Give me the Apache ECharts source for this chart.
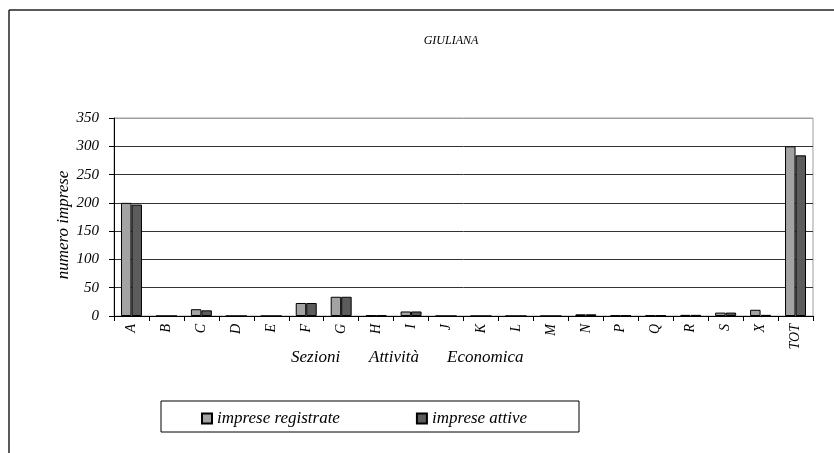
<!DOCTYPE html>
<html>
<head>
<meta charset="utf-8">
<script src="https://cdn.jsdelivr.net/npm/echarts@6/dist/echarts.min.js"></script>
<style>
  html, body { margin: 0; padding: 0; background: #fff; }
  #chart { width: 834px; height: 453px; }
</style>
</head>
<body>
<div id="chart"></div>
<script>
// Sezioni di attività economica (ATECO) per il comune
const categories = ['A','B','C','D','E','F','G','H','I','J','K','L','M','N','P','Q','R','S','X','TOT'];
const impreseRegistrate = [200, 0, 12, 0, 0, 23, 34, 1, 8, 0, 0, 0, 0, 3, 1, 1, 2, 6, 11, 300];
const impreseAttive     = [197, 0, 10, 0, 0, 23, 34, 1, 8, 0, 0, 0, 0, 3, 1, 1, 2, 6, 2, 284];
const yTicks = { min: 0, max: 350, interval: 50 };

const FONT = 'Liberation Serif, Times New Roman, serif';
const chart = echarts.init(document.getElementById('chart'));

chart.setOption({
  backgroundColor: '#fff',
  animation: false,
  title: {
    text: 'GIULIANA',
    left: 446, top: 30, textAlign: 'center',
    textStyle: { fontFamily: FONT, fontStyle: 'italic', fontWeight: 'normal', fontSize: 12, color: '#000' }
  },
  grid: {
    left: 114, right: 21, top: 118, bottom: 137,
    show: true, borderColor: '#a0a0a0', borderWidth: 1, backgroundColor: 'transparent'
  },
  legend: {
    left: 196, top: 405,
    icon: 'rect', itemWidth: 10, itemHeight: 10, itemGap: 76,
    textStyle: { fontFamily: FONT, fontStyle: 'italic', fontSize: 17, color: '#000' },
    data: ['imprese registrate', 'imprese attive']
  },
  xAxis: {
    type: 'category',
    data: categories,
    axisLine: { lineStyle: { color: '#000', width: 1 } },
    axisTick: { show: true, length: 5, lineStyle: { color: '#000' } },
    axisLabel: { rotate: 90, margin: 8, interval: 0, fontFamily: FONT, fontStyle: 'italic', fontSize: 14, color: '#000' },
    splitLine: { show: false }
  },
  yAxis: {
    type: 'value',
    min: yTicks.min, max: yTicks.max, interval: yTicks.interval,
    axisLine: { show: true, lineStyle: { color: '#000', width: 1 } },
    axisTick: { show: true, length: 5, lineStyle: { color: '#000' } },
    axisLabel: { margin: 15, fontFamily: FONT, fontStyle: 'italic', fontSize: 15, color: '#000' },
    splitLine: { show: true, lineStyle: { color: ['#333','#333','#333','#333','#333','#333','#333','#a0a0a0'], width: 1 } }
  },
  series: [
    {
      name: 'imprese registrate', type: 'bar', data: impreseRegistrate,
      barGap: '0%', barCategoryGap: '40%',
      itemStyle: { color: '#a3a3a3', borderColor: '#000', borderWidth: 1 }
    },
    {
      name: 'imprese attive', type: 'bar', data: impreseAttive,
      itemStyle: { color: '#5c5c5c', borderColor: '#000', borderWidth: 1 }
    }
  ],
  graphic: [
    // cornice esterna
    { type: 'line', shape: { x1: 9, y1: 10, x2: 840, y2: 10 }, style: { stroke: '#222', lineWidth: 1.5 } },
    { type: 'line', shape: { x1: 9, y1: 10, x2: 9, y2: 460 }, style: { stroke: '#222', lineWidth: 1.5 } },
    // riquadro della legenda
    { type: 'rect', shape: { x: 161, y: 401, width: 418, height: 31 }, style: { fill: 'none', stroke: '#000', lineWidth: 1 }, z: -1 },
    // titolo dell'asse dei valori
    { type: 'text', x: 64, y: 225, rotation: Math.PI / 2,
      style: { text: 'numero imprese', font: 'italic 17px ' + FONT, fill: '#000', align: 'center', verticalAlign: 'middle' } },
    // titolo dell'asse delle categorie
    { type: 'text', left: 291, top: 349, style: { text: 'Sezioni', font: 'italic 17px ' + FONT, fill: '#000' } },
    { type: 'text', left: 369, top: 349, style: { text: 'Attività', font: 'italic 17px ' + FONT, fill: '#000' } },
    { type: 'text', left: 447, top: 349, style: { text: 'Economica', font: 'italic 17px ' + FONT, fill: '#000' } }
  ]
});
</script>
</body>
</html>
